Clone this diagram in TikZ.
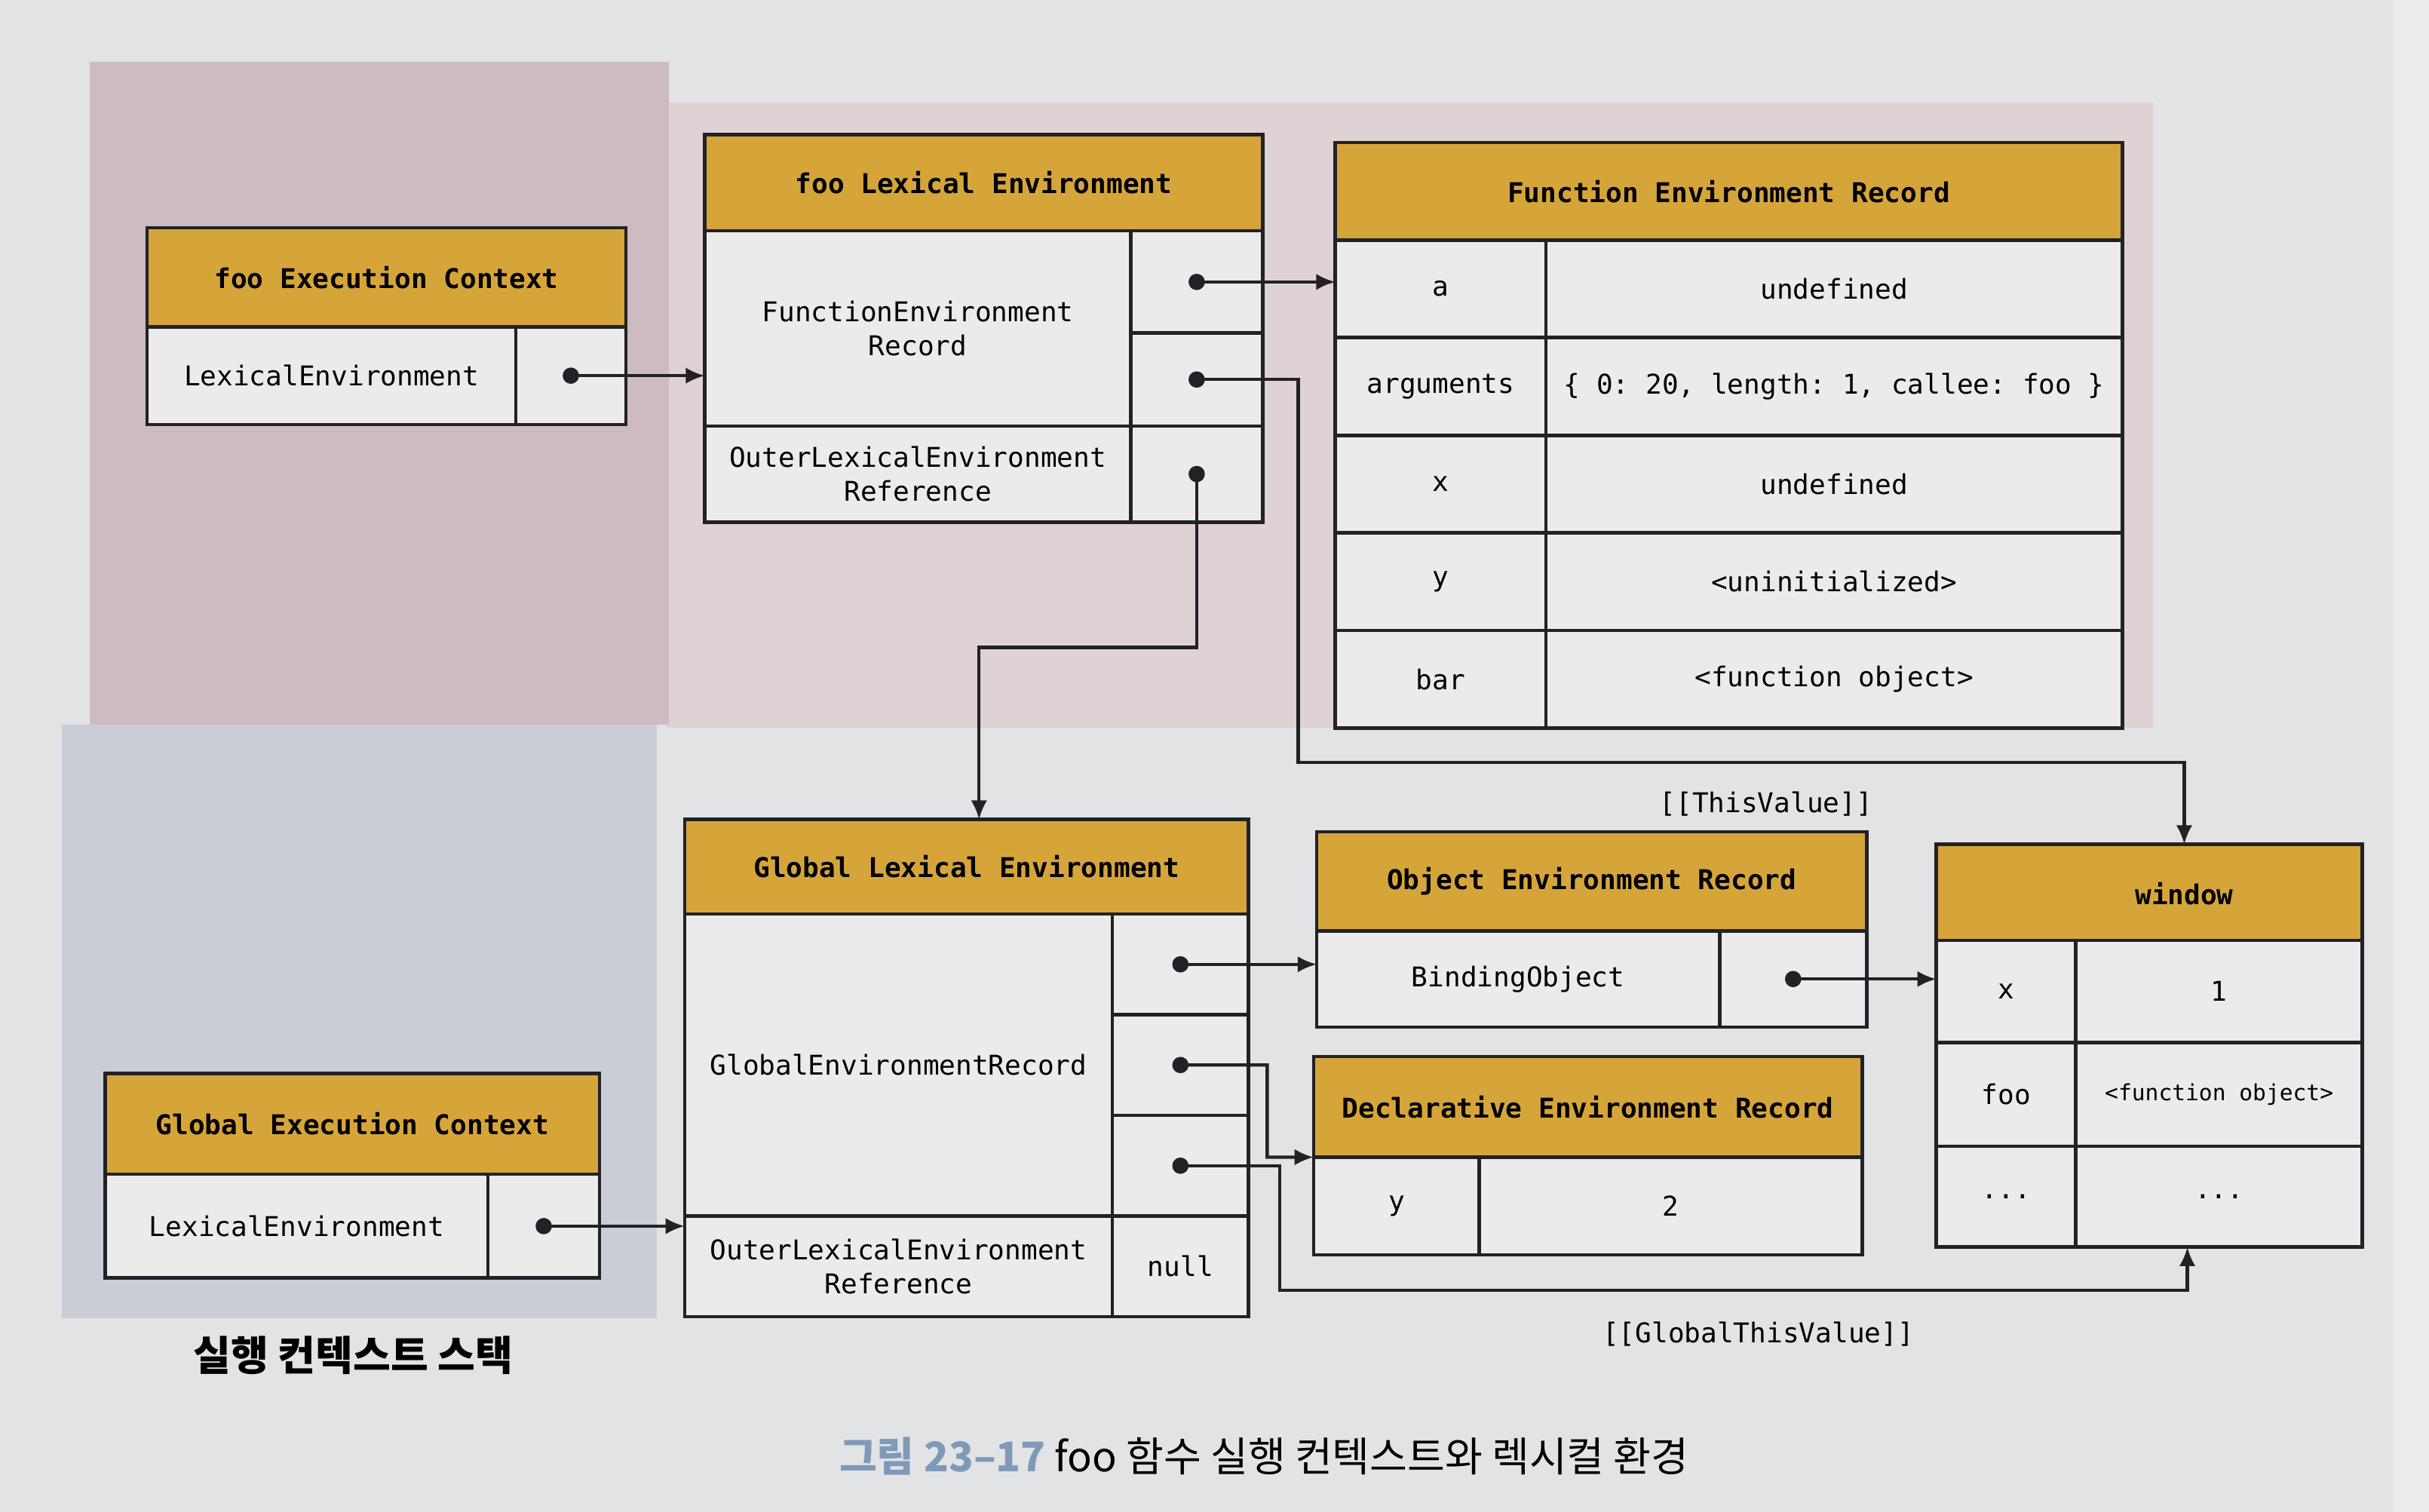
\documentclass[tikz,border=0pt]{standalone}
\usepackage{fontspec}
\setmonofont{DejaVu Sans Mono}
\newfontfamily\kr{Noto Sans CJK KR}
\usetikzlibrary{arrows.meta}
\definecolor{pagebg}{HTML}{E1E3E4}
\definecolor{pinkL}{HTML}{CDBBC1}
\definecolor{pinkR}{HTML}{DED2D4}
\definecolor{greyb}{HTML}{CACDD5}
\definecolor{gold}{HTML}{D6A53A}
\definecolor{cellc}{HTML}{EBEBEB}
\definecolor{ln}{HTML}{222226}
\definecolor{capblue}{HTML}{7F9AB8}
\newcommand\cellbox[7]{\node[#6, minimum width={(#4-#2)*0.02cm}, minimum height={(#5-#3)*0.02cm}] (#1) at ({(#2+#4)/2},{(#3+#5)/2}) {#7};}
\tikzset{
  cell/.style={draw=ln, line width=1.3pt, fill=cellc, inner sep=0pt, outer sep=0pt, align=center, font=\ttfamily\fontsize{10}{12.5}\selectfont},
  hdr/.style={cell, fill=gold, font=\ttfamily\bfseries\fontsize{10}{12.5}\selectfont},
  hdrtext/.style={inner sep=0pt, font=\ttfamily\bfseries\fontsize{10}{12.5}\selectfont},
  lbl/.style={inner sep=0pt, font=\ttfamily\fontsize{10}{12.5}\selectfont},
  conn/.style={draw=ln, line width=1.2pt, -{Latex[length=7pt,width=6pt]}},
  dotc/.style={fill=ln}
}
\begin{document}
\begin{tikzpicture}[x=0.02cm,y=-0.02cm]
% background
\fill[pagebg] (0,0) rectangle (1568,976);
\useasboundingbox (0,0) rectangle (1568,976);
\fill[pinkR] (430,66) rectangle (1390,470);
\fill[pinkL] (58,40) rectangle (432,468);
\fill[greyb] (40,468) rectangle (424,851);
\fill[white,opacity=0.35] (1545,0) rectangle (1568,976);

% foo Execution Context
\cellbox{fech}{95}{147}{404}{211}{hdr}{foo Execution Context}
\cellbox{feck}{95}{211}{333}{274}{cell}{LexicalEnvironment}
\cellbox{fecp}{333}{211}{404}{274}{cell}{}

% foo Lexical Environment
\cellbox{fleh}{455}{87}{815}{149}{hdr}{foo Lexical Environment}
\cellbox{flek}{455}{149}{730}{275}{cell}{FunctionEnvironment\\Record}
\cellbox{flep1}{730}{149}{815}{215}{cell}{}
\cellbox{flep2}{730}{215}{815}{275}{cell}{}
\cellbox{fleo}{455}{275}{730}{337}{cell}{OuterLexicalEnvironment\\Reference}
\cellbox{flepo}{730}{275}{815}{337}{cell}{}

% Function Environment Record
\cellbox{ferh}{862}{92}{1370}{155}{hdr}{Function Environment Record}
\cellbox{fera}{862}{155}{998}{218}{cell}{a}
\cellbox{ferav}{998}{155}{1370}{218}{cell}{undefined}
\cellbox{ferb}{862}{218}{998}{281}{cell}{arguments}
\cellbox{ferbv}{998}{218}{1370}{281}{cell}{\{ 0: 20, length: 1, callee: foo \}}
\cellbox{ferc}{862}{281}{998}{344}{cell}{x}
\cellbox{fercv}{998}{281}{1370}{344}{cell}{undefined}
\cellbox{ferd}{862}{344}{998}{407}{cell}{y}
\cellbox{ferdv}{998}{344}{1370}{407}{cell}{<uninitialized>}
\cellbox{fere}{862}{407}{998}{470}{cell}{bar}
\cellbox{ferev}{998}{407}{1370}{470}{cell}{<function object>}

% Global Execution Context
\cellbox{gech}{68}{693}{387}{758}{hdr}{Global Execution Context}
\cellbox{geck}{68}{758}{315}{825}{cell}{LexicalEnvironment}
\cellbox{gecp}{315}{758}{387}{825}{cell}{}

% Global Lexical Environment
\cellbox{gleh}{442}{529}{806}{590}{hdr}{Global Lexical Environment}
\cellbox{glek}{442}{590}{718}{785}{cell}{GlobalEnvironmentRecord}
\cellbox{glep1}{718}{590}{806}{655}{cell}{}
\cellbox{glep2}{718}{655}{806}{720}{cell}{}
\cellbox{glep3}{718}{720}{806}{785}{cell}{}
\cellbox{gleo}{442}{785}{718}{850}{cell}{OuterLexicalEnvironment\\Reference}
\cellbox{glenull}{718}{785}{806}{850}{cell}{null}

% Object Environment Record
\cellbox{oerh}{850}{537}{1205}{601}{hdr}{Object Environment Record}
\cellbox{oerk}{850}{601}{1110}{663}{cell}{BindingObject}
\cellbox{oerp}{1110}{601}{1205}{663}{cell}{}

% Declarative Environment Record
\cellbox{derh}{848}{682}{1202}{747}{hdr}{Declarative Environment Record}
\cellbox{derk}{848}{747}{955}{810}{cell}{y}
\cellbox{derv}{955}{747}{1202}{810}{cell}{2}

% window
\cellbox{winh}{1250}{545}{1525}{607}{hdr}{}
\node[hdrtext] (wint) at (1410,577) {window};
\cellbox{winxk}{1250}{607}{1340}{673}{cell}{x}
\cellbox{winxv}{1340}{607}{1525}{673}{cell}{1}
\cellbox{winfk}{1250}{673}{1340}{740}{cell}{foo}
\cellbox{winfv}{1340}{673}{1525}{740}{cell,font=\ttfamily\fontsize{8.2}{10}\selectfont}{<function object>}
\cellbox{wineq}{1250}{740}{1340}{805}{cell}{...}
\cellbox{winev}{1340}{740}{1525}{805}{cell}{...}

% turning points
\coordinate (k1) at (838,492);
\coordinate (k1b) at (1410,492);
\coordinate (k5) at (632,418);
\coordinate (k2) at (818,747);
\coordinate (k3) at (826,833);
\coordinate (k4) at (1412,833);

% connectors
\draw[conn] (fecp.center) -- (fecp.center -| flek.west);
\draw[conn] (flep1.center) -- (flep1.center -| fera.west);
\draw[conn] (flep2.center) -| (k1) -- (k1b) -- (k1b |- winh.north);
\draw[conn] (flepo.center) |- (k5) -- (k5 |- gleh.north);
\draw[conn] (gecp.center) -- (gecp.center -| gleo.west);
\draw[conn] (glep1.center) -- (glep1.center -| oerk.west);
\draw[conn] (glep2.center) -| (k2) -- (derh.south west);
\draw[conn] (glep3.center) -| (k3) -- (k4) -- (k4 |- wineq.south);
\draw[conn] (oerp.center) -- (oerp.center -| winxk.west);

% dots
\foreach \d in {fecp,flep1,flep2,flepo,gecp,glep1,glep2,glep3,oerp}
  \fill[dotc] (\d.center) circle (3pt);

% labels
\node[lbl] (tv) at (1140,519) {[[ThisValue]]};
\node[lbl] (gtv) at (1135,861) {[[GlobalThisValue]]};

\node[inner sep=0pt, font=\kr\bfseries\fontsize{15}{18}\selectfont] (ecs) at (228,875) {실행 컨텍스트 스택};
\node[inner sep=0pt, font=\kr\fontsize{15}{18}\selectfont] (cap) at (816,940) {\textcolor{capblue}{\bfseries 그림 23–17}\ foo 함수 실행 컨텍스트와 렉시컬 환경};
\end{tikzpicture}
\end{document}
